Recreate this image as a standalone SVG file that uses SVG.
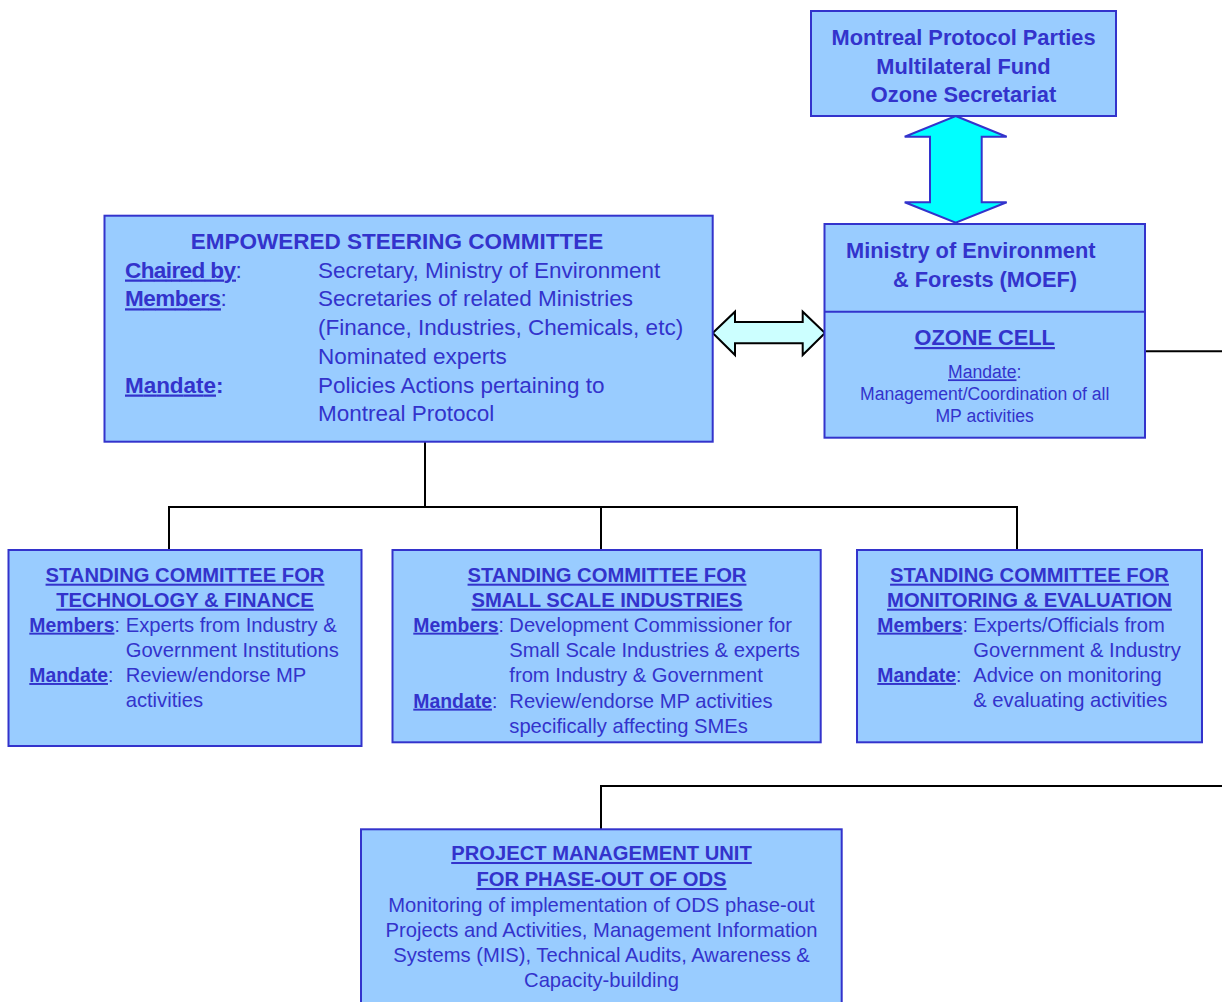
<svg xmlns="http://www.w3.org/2000/svg" width="1222" height="1002" viewBox="0 0 1222 1002">
<style>
.box{fill:#99CCFF;stroke:#3333CC;stroke-width:2}
.t{font-family:"Liberation Sans",Arial,sans-serif;fill:#3333CC}
.b{font-weight:bold}
.u{text-decoration:underline}
.c{text-anchor:middle}
.conn{fill:none;stroke:#000;stroke-width:2}
.s225{font-size:22.5px}
.s218{font-size:21.8px}
.s20{font-size:20.2px}
.s195{font-size:19.4px}
.s176{font-size:17.6px}
</style>
<rect width="1222" height="1002" fill="#fff"/>
<g id="connectors">
<path class="conn" d="M425 441.7V507M169 550V507H1017V550M601 507V550"/>
<path class="conn" d="M1145 351.3H1222"/>
<path class="conn" d="M601 829V786H1222"/>
<polygon id="arrow-v" points="955.7,116 1006.7,136.7 981.7,136.7 981.7,202.3 1006.7,202.3 955.7,222.7 904.7,202.3 930,202.3 930,136.7 904.7,136.7" fill="#00FFFF" stroke="#3333CC" stroke-width="2"/>
<polygon id="arrow-h" points="712.7,333 735,311.7 735,322 802.7,322 802.7,311.7 825,333 802.7,355 802.7,343.3 735,343.3 735,355" fill="#CCFFFF" stroke="#000" stroke-width="2"/>
</g>
<g id="montreal">
<rect class="box" x="811" y="11" width="305" height="105"/>
<text class="t b c s218" x="963.5" y="45">Montreal Protocol Parties</text>
<text class="t b c s218" x="963.5" y="73.5">Multilateral Fund</text>
<text class="t b c s218" x="963.5" y="102">Ozone Secretariat</text>
</g>
<g id="moef">
<rect class="box" x="824.5" y="224" width="320.5" height="213.7"/>
<line x1="824.5" y1="311.7" x2="1145" y2="311.7" stroke="#3333CC" stroke-width="2"/>
<text class="t b s218" x="846" y="258.3">Ministry of Environment</text>
<text class="t b s218" x="893" y="287.3">&amp; Forests (MOEF)</text>
<text class="t b u c s218" x="984.7" y="345">OZONE CELL</text>
<text class="t c s176" x="984.7" y="378.3"><tspan class="u">Mandate</tspan>:</text>
<text class="t c s176" x="984.7" y="400">Management/Coordination of all</text>
<text class="t c s176" x="984.7" y="421.7">MP activities</text>
</g>
<g id="esc">
<rect class="box" x="104.5" y="215.7" width="608.2" height="226"/>
<text class="t b c s225" x="397" y="248.5">EMPOWERED STEERING COMMITTEE</text>
<text class="t s225" x="125" y="277.5"><tspan class="b u" textLength="111">Chaired by</tspan>:</text>
<text class="t s225" x="318" y="277.5">Secretary, Ministry of Environment</text>
<text class="t s225" x="125" y="306.3"><tspan class="b u" textLength="96">Members</tspan>:</text>
<text class="t s225" x="318" y="306.3">Secretaries of related Ministries</text>
<text class="t s225" x="318" y="335">(Finance, Industries, Chemicals, etc)</text>
<text class="t s225" x="318" y="363.8">Nominated experts</text>
<text class="t s225" x="125" y="392.5"><tspan class="b u" textLength="91">Mandate</tspan><tspan class="b">:</tspan></text>
<text class="t s225" x="318" y="392.5">Policies Actions pertaining to</text>
<text class="t s225" x="318" y="421.3">Montreal Protocol</text>
</g>
<g id="sc-tech-finance">
<rect class="box" x="8.5" y="550" width="353" height="196"/>
<text class="t b u c s20" x="185" y="581.7">STANDING COMMITTEE FOR</text>
<text class="t b u c s20" x="185" y="606.7">TECHNOLOGY &amp; FINANCE</text>
<text class="t s195" x="29.3" y="631.7"><tspan class="b u">Members</tspan>:</text>
<text class="t s20" x="125.7" y="631.7">Experts from Industry &amp;</text>
<text class="t s20" x="125.7" y="656.7">Government Institutions</text>
<text class="t s195" x="29.3" y="682"><tspan class="b u">Mandate</tspan>:</text>
<text class="t s20" x="125.7" y="682">Review/endorse MP</text>
<text class="t s20" x="125.7" y="707">activities</text>
</g>
<g id="sc-ssi">
<rect class="box" x="392.5" y="550" width="428.2" height="192.3"/>
<text class="t b u c s20" x="607" y="581.7">STANDING COMMITTEE FOR</text>
<text class="t b u c s20" x="607" y="606.7">SMALL SCALE INDUSTRIES</text>
<text class="t s195" x="413.3" y="631.7"><tspan class="b u">Members</tspan>:</text>
<text class="t s20" x="509.3" y="631.7">Development Commissioner for</text>
<text class="t s20" x="509.3" y="657">Small Scale Industries &amp; experts</text>
<text class="t s20" x="509.3" y="682.3">from Industry &amp; Government</text>
<text class="t s195" x="413.3" y="707.7"><tspan class="b u">Mandate</tspan>:</text>
<text class="t s20" x="509.3" y="707.7">Review/endorse MP activities</text>
<text class="t s20" x="509.3" y="733">specifically affecting SMEs</text>
</g>
<g id="sc-monitoring">
<rect class="box" x="857" y="550" width="345" height="192.3"/>
<text class="t b u c s20" x="1029.5" y="581.7">STANDING COMMITTEE FOR</text>
<text class="t b u c s20" x="1029.5" y="606.7">MONITORING &amp; EVALUATION</text>
<text class="t s195" x="877.3" y="631.7"><tspan class="b u">Members</tspan>:</text>
<text class="t s20" x="973.3" y="631.7">Experts/Officials from</text>
<text class="t s20" x="973.3" y="656.7">Government &amp; Industry</text>
<text class="t s195" x="877.3" y="682"><tspan class="b u">Mandate</tspan>:</text>
<text class="t s20" x="973.3" y="682">Advice on monitoring</text>
<text class="t s20" x="973.3" y="707">&amp; evaluating activities</text>
</g>
<g id="pmu">
<rect class="box" x="361" y="829.3" width="480.7" height="190"/>
<text class="t b u c s20" x="601.5" y="860">PROJECT MANAGEMENT UNIT</text>
<text class="t b u c s20" x="601.5" y="886">FOR PHASE-OUT OF ODS</text>
<text class="t c s20" x="601.5" y="911.7">Monitoring of implementation of ODS phase-out</text>
<text class="t c s20" x="601.5" y="936.7">Projects and Activities, Management Information</text>
<text class="t c s20" x="601.5" y="962.3">Systems (MIS), Technical Audits, Awareness &amp;</text>
<text class="t c s20" x="601.5" y="987.3">Capacity-building</text>
</g>
</svg>
